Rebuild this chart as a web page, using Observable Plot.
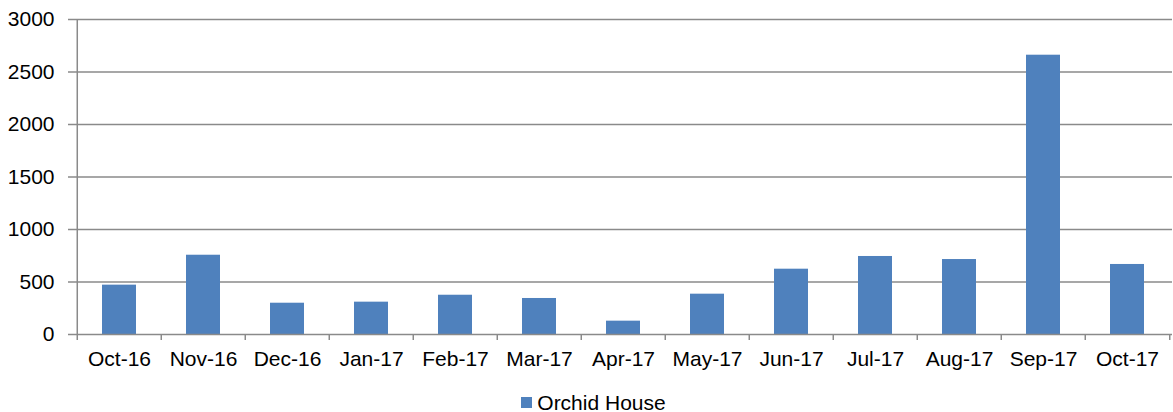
<!DOCTYPE html>
<html>
<head>
<meta charset="utf-8">
<script src="https://cdn.jsdelivr.net/npm/d3@7"></script>
<script src="https://cdn.jsdelivr.net/npm/@observablehq/plot@0.6"></script>
<style>
  html, body { margin: 0; padding: 0; background: #fff; }
  body { font-family: "Liberation Sans", Arial, sans-serif; width: 1173px; height: 412px; overflow: hidden; }
  #legend { display: flex; justify-content: center; align-items: center; height: 27px; padding-top: 8px; padding-left: 14px; box-sizing: border-box; font-size: 21px; color: #000; }
  #legend .sw { width: 11px; height: 11px; background: #4f81bd; margin-right: 5px; }
</style>
</head>
<body>
<div id="chart"></div>
<div id="legend"><span class="sw"></span><span id="legend-label"></span></div>
<script>
const months = ["Oct-16","Nov-16","Dec-16","Jan-17","Feb-17","Mar-17","Apr-17","May-17","Jun-17","Jul-17","Aug-17","Sep-17","Oct-17"];
const visits = [470, 755, 298, 308, 374, 343, 127, 384, 622, 743, 714, 2660, 667];
const yTicks = [0, 500, 1000, 1500, 2000, 2500, 3000];
const seriesName = "Orchid House";

const data = months.map((m, i) => ({month: m, value: visits[i]}));

const W = 1173, H = 385, ML = 74, MR = 1, MT = 19, MB = 51;
const step = (W - ML - MR) / months.length;
const pxPerUnit = (H - MT - MB) / 3000;
const tickUnits = 6 / pxPerUnit;
const gray = "#8a8a8a";

const chart = Plot.plot({
  width: W, height: H,
  marginLeft: ML, marginRight: MR, marginTop: MT, marginBottom: MB,
  style: {fontFamily: "'Liberation Sans', Arial, sans-serif", background: "#fff", color: "#000"},
  x: {domain: months, paddingInner: 0.6, paddingOuter: 0.3},
  y: {domain: [0, 3000]},
  marks: [
    Plot.ruleY(yTicks.filter(v => v > 0), {stroke: gray, strokeWidth: 1.5}),
    Plot.barY(data, {x: "month", y: "value", fill: "#4f81bd"}),
    Plot.ruleY([0], {stroke: gray, strokeWidth: 1.5}),
    Plot.ruleX([months[0]], {x: d => d, dx: -step / 2, y1: -tickUnits, y2: 3000, stroke: gray, strokeWidth: 1.5}),
    Plot.ruleX(months.slice(1), {x: d => d, dx: -step / 2, y1: -tickUnits, y2: 0, stroke: gray, strokeWidth: 1.5}),
    Plot.ruleX([months[months.length - 1]], {x: d => d, dx: step / 2, y1: -tickUnits, y2: 0, stroke: gray, strokeWidth: 1.5}),
    Plot.axisY({ticks: yTicks, tickSize: 6, tickPadding: 14, stroke: gray, strokeWidth: 1.5, fill: "#000", fontSize: 21, tickFormat: d => String(d), label: null}),
    Plot.axisX({tickSize: 0, tickPadding: 17, fill: "#000", fontSize: 21, label: null})
  ]
});
document.getElementById("chart").appendChild(chart);
document.getElementById("legend-label").textContent = seriesName;
</script>
</body>
</html>
